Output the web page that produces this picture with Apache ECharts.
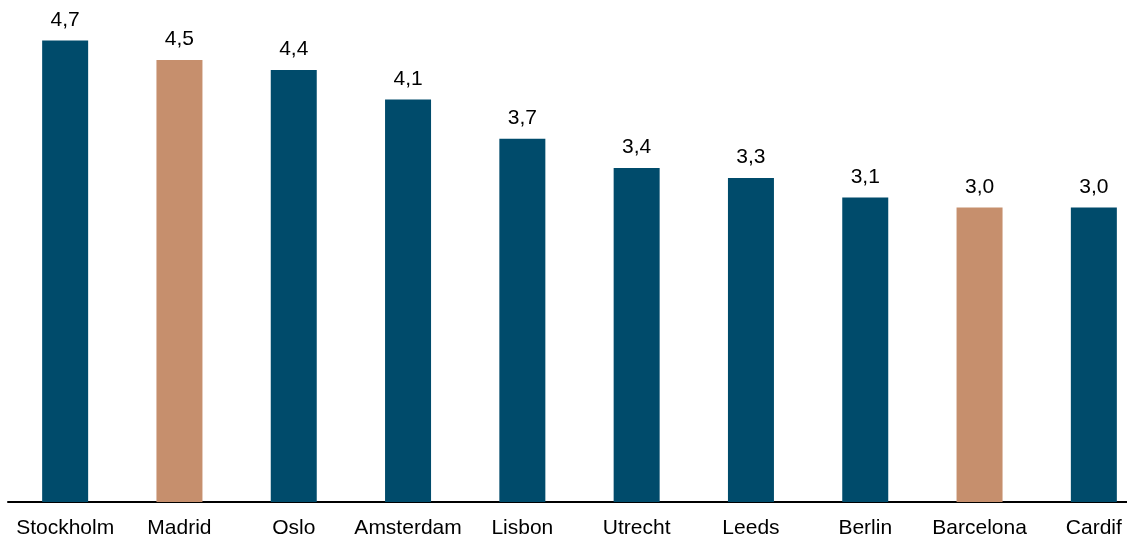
<!DOCTYPE html>
<html>
<head>
<meta charset="utf-8">
<script src="https://cdn.jsdelivr.net/npm/echarts@6/dist/echarts.min.js"></script>
<style>html,body{margin:0;padding:0;background:#fff;overflow:hidden;width:1127px;height:540px}#c{width:1151px;height:540px}</style>
</head>
<body>
<div id="c"></div>
<script>
var categories = ['Stockholm','Madrid','Oslo','Amsterdam','Lisbon','Utrecht','Leeds','Berlin','Barcelona','Cardif'];
var values = [4.7,4.5,4.4,4.1,3.7,3.4,3.3,3.1,3.0,3.0];
var highlighted = ['Madrid','Barcelona'];
var BLUE = '#004B6B', TAN = '#C68F6D';
var chart = echarts.init(document.getElementById('c'));
chart.setOption({
  animation: false,
  grid: {left: 8, right: 0, top: 11, bottom: 38, containLabel: false},
  xAxis: {
    type: 'category', data: categories,
    axisLine: {show: true, lineStyle: {color: '#000', width: 2}},
    axisTick: {show: false},
    axisLabel: {color: '#000', fontFamily: 'Liberation Sans, Arial', fontSize: 21, margin: 16, interval: 0}
  },
  yAxis: {type: 'value', min: 0, max: 5, show: false, splitLine: {show: false}},
  series: [{
    type: 'bar', barWidth: 46,
    data: values.map(function(v, i){
      return {value: v, itemStyle: {color: highlighted.indexOf(categories[i]) >= 0 ? TAN : BLUE}};
    }),
    label: {
      show: true, position: 'top', distance: 10, color: '#000',
      fontFamily: 'Liberation Sans, Arial', fontSize: 21,
      formatter: function(p){ return p.value.toFixed(1).replace('.', ','); }
    }
  }]
});
</script>
</body>
</html>
